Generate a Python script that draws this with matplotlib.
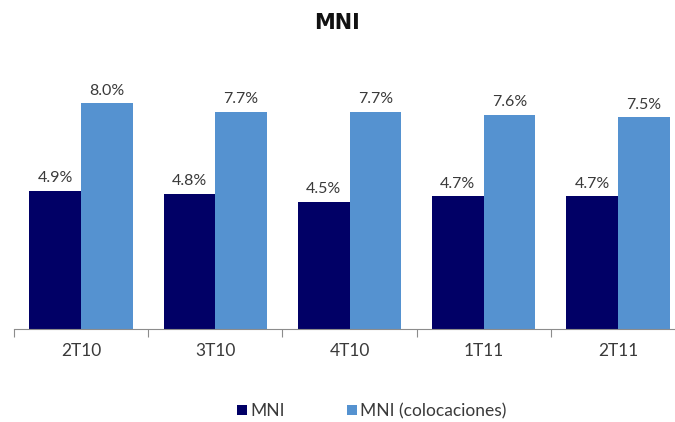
import numpy as np
import matplotlib
matplotlib.use('Agg')
import matplotlib.pyplot as plt

# Data
periodos = ['2T10', '3T10', '4T10', '1T11', '2T11']
mni = [4.9, 4.8, 4.5, 4.7, 4.7]
mni_coloc = [8.0, 7.7, 7.7, 7.6, 7.5]

navy = '#010066'
light = '#5592d0'
plt.rcParams['font.family'] = ['Lato', 'DejaVu Sans']

fig = plt.figure(figsize=(6.75, 4.22), dpi=100)
ax = fig.add_axes([14 / 675, 93 / 422, 671 / 675, 268 / 422])

x = np.arange(len(periodos))
w = 0.385
b1 = ax.bar(x - w / 2, mni, w, color=navy, label='MNI')
b2 = ax.bar(x + w / 2, mni_coloc, w, color=light, label='MNI (colocaciones)')

for bars, vals in ((b1, mni), (b2, mni_coloc)):
    for r, v in zip(bars, vals):
        ax.annotate(f'{v:.1f}%', (r.get_x() + r.get_width() / 2, v),
                    xytext=(0, 4), textcoords='offset points',
                    ha='center', va='bottom', fontsize=11.5, color='#3a3a3a')

ax.set_xlim(-0.5, len(periodos) - 0.5)
ax.set_ylim(0, 9.5)
ax.set_yticks([])
for s in ['top', 'right', 'left']:
    ax.spines[s].set_visible(False)
ax.spines['bottom'].set_color('#8c8c8c')

# category separators as ticks, labels placed as text
ax.set_xticks(np.arange(len(periodos) + 1) - 0.5)
ax.set_xticklabels([])
ax.tick_params(axis='x', length=6, color='#8c8c8c', direction='out')
for i, p in enumerate(periodos):
    ax.text(i, -0.5, p, ha='center', va='top', fontsize=12.5, color='#3a3a3a')

fig.text(0.5, 0.945, 'MNI', ha='center', va='center', fontsize=15,
         fontweight='bold', family='DejaVu Sans', color='#111111')

fig.legend(handles=[b1, b2], loc='center', bbox_to_anchor=(372 / 675, 11 / 422),
           ncol=2, frameon=False, fontsize=12.5, handlelength=0.55, handleheight=0.55,
           columnspacing=3.6, handletextpad=0.2, labelcolor='#3a3a3a')

fig.savefig('out.png', dpi=100)
